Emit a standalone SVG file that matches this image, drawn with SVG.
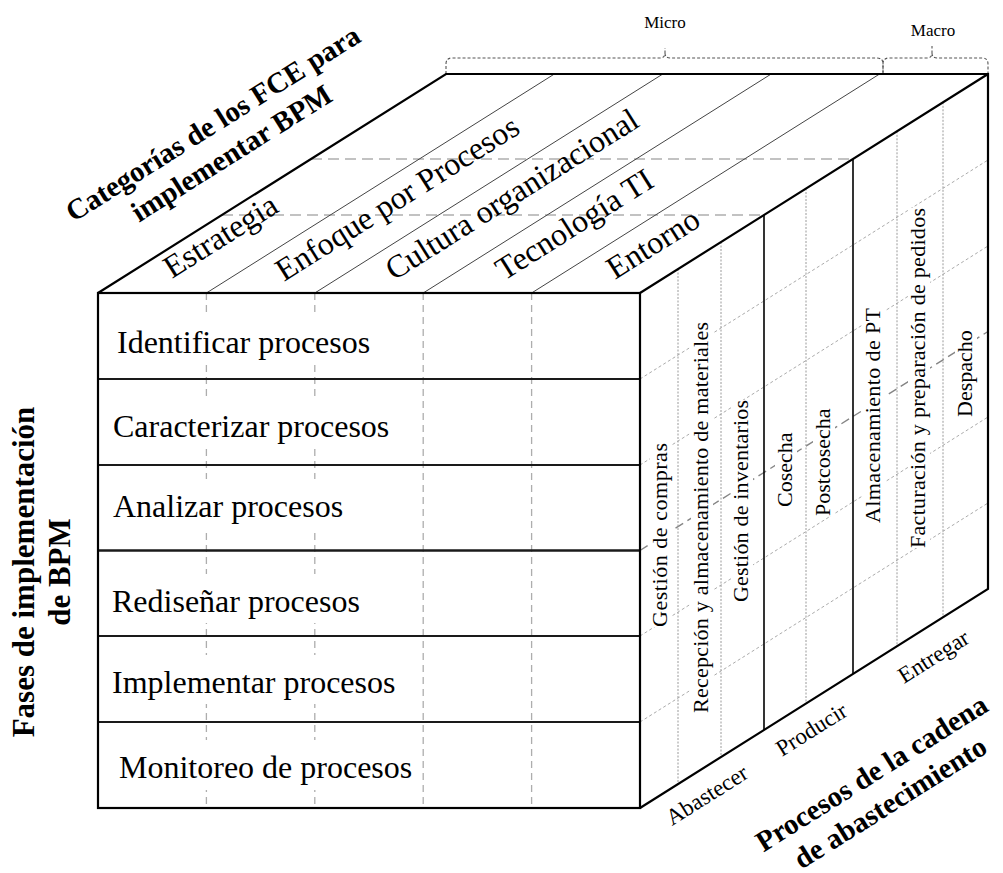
<svg xmlns="http://www.w3.org/2000/svg" width="1003" height="873" viewBox="0 0 1003 873">
<style>
text{font-family:"Liberation Serif","Times New Roman",serif;fill:#000}
.title{font-weight:bold;font-size:29px}
.title-side{font-weight:bold;font-size:31px}
.cat{font-size:32px}
.row{font-size:32px}
.proc{font-size:22px}
.stage{font-size:23px}
.scope{font-size:17px}
.face{fill:#fff;stroke:none}
.edge{fill:none;stroke:#000;stroke-width:2.2;stroke-linejoin:miter}
.rowbox{fill:none;stroke:#1a1a1a;stroke-width:2}
.band{fill:none;stroke:#444;stroke-width:1}
.sect{stroke:#000;stroke-width:1.6}
.sub{stroke:#9a9a9a;stroke-width:1;stroke-dasharray:2 1.5}
.diag{stroke:#ababab;stroke-width:1;stroke-dasharray:3 2.5}
.diag-mid{stroke:#858585;stroke-width:1.4;stroke-dasharray:9 5}
.hidden{stroke:#c2c2c2;stroke-width:2;stroke-dasharray:11 6}
.col{stroke:#adadad;stroke-width:1.3;stroke-dasharray:7 5}
.brace{fill:none;stroke:#555;stroke-width:1.1;stroke-dasharray:3 2}
.bg{fill:#fff}
</style>

<!-- cube faces (white fills) -->
<g id="faces">
  <polygon class="face" points="98,293 640,293 988,74 446,74"/>
  <polygon class="face" points="640,293 988,74 988,589 640,808"/>
  <rect class="face" x="98" y="293" width="542" height="515"/>
</g>

<!-- guide lines across the cube -->
<g id="connectors">
  <!-- hidden section boundaries on the top face -->
  <path class="hidden" d="M222,215 H764 M311,159 H853"/>
  <!-- category columns on the front face -->
  <path class="col" d="M206.4,293 V808 M314.8,293 V808 M423.2,293 V808 M531.6,293 V808"/>
  <!-- phase rows continued along the side face -->
  <path class="diag" d="M640,379 L988,160 M640,465 L988,246 M640,636 L988,417 M640,722 L988,503"/>
  <path class="diag-mid" d="M640,550.5 L988,331.5"/>
  <!-- sub-process divisions on the side face -->
  <path class="sub" d="M678,269 V784 M721,242 V757 M806,188.5 V703.5 M897,131.3 V646.3 M943,102.3 V617.3"/>
</g>

<!-- top face: FCE categories -->
<g id="categories">
  <path class="band" d="M206.4,293 L554.4,74 M314.8,293 L662.8,74 M423.2,293 L771.2,74 M531.6,293 L879.6,74"/>
  <g id="cat-estrategia"><text class="cat" transform="translate(172,279) rotate(-32.18)">Estrategia</text></g>
  <g id="cat-enfoque"><text class="cat" transform="translate(284,282) rotate(-32.18)">Enfoque por Procesos</text></g>
  <g id="cat-cultura"><text class="cat" transform="translate(394,281) rotate(-32.18)">Cultura organizacional</text></g>
  <g id="cat-tecnologia"><text class="cat" transform="translate(504,281) rotate(-32.18)">Tecnología TI</text></g>
  <g id="cat-entorno"><text class="cat" transform="translate(615,280) rotate(-32.18)">Entorno</text></g>
</g>

<!-- Micro / Macro braces -->
<g id="scope-micro">
  <path class="brace" d="M446,74 V64 Q446,58 452,58 H660 Q665,58 665,53 V48 M665,53 Q665,58 670,58 H877 Q883,58 883,64 V74"/>
  <text class="scope" x="665" y="28" text-anchor="middle">Micro</text>
</g>
<g id="scope-macro">
  <path class="brace" d="M883,74 V64 Q883,58 889,58 H927 Q932,58 932,53 V46 M932,53 Q932,58 937,58 H982 Q988,58 988,64 V74"/>
  <text class="scope" x="933" y="36" text-anchor="middle">Macro</text>
</g>

<!-- front face: BPM implementation phases -->
<g id="phase-1">
  <rect class="bg" x="113" y="315" width="263" height="49"/>
  <text class="row" x="117" y="353">Identificar procesos</text>
  <rect class="rowbox" x="98" y="293" width="542" height="86"/>
</g>
<g id="phase-2">
  <rect class="bg" x="109" y="397" width="289" height="50"/>
  <text class="row" x="113" y="437">Caracterizar procesos</text>
  <rect class="rowbox" x="98" y="379" width="542" height="86"/>
</g>
<g id="phase-3">
  <rect class="bg" x="109" y="479" width="238" height="49"/>
  <text class="row" x="113" y="517">Analizar procesos</text>
  <rect class="rowbox" x="98" y="465" width="542" height="85.5"/>
</g>
<g id="phase-4">
  <rect class="bg" x="108" y="574" width="256" height="49"/>
  <text class="row" x="112" y="612">Rediseñar procesos</text>
  <rect class="rowbox" x="98" y="550.5" width="542" height="85.5"/>
</g>
<g id="phase-5">
  <rect class="bg" x="108" y="655" width="292" height="49"/>
  <text class="row" x="112" y="693">Implementar procesos</text>
  <rect class="rowbox" x="98" y="636" width="542" height="86"/>
</g>
<g id="phase-6">
  <rect class="bg" x="115" y="740" width="305" height="50"/>
  <text class="row" x="119" y="778">Monitoreo de procesos</text>
  <rect class="rowbox" x="98" y="722" width="542" height="86"/>
</g>

<!-- side face: supply chain processes -->
<g id="stage-abastecer">
  <g id="proc-compras"><rect class="bg" x="650" y="443" width="22" height="184"/><text class="proc" transform="translate(667,627) rotate(-90)" textLength="184" lengthAdjust="spacing">Gestión de compras</text></g>
  <g id="proc-recepcion"><rect class="bg" x="691" y="322" width="22" height="391"/><text class="proc" transform="translate(708,713) rotate(-90)" textLength="391" lengthAdjust="spacing">Recepción y almacenamiento de materiales</text></g>
  <g id="proc-inventarios"><rect class="bg" x="731" y="400" width="22" height="202"/><text class="proc" transform="translate(748,602) rotate(-90)" textLength="202" lengthAdjust="spacing">Gestión de inventarios</text></g>
  <text class="stage" transform="translate(672,826) rotate(-32.18)">Abastecer</text>
</g>
<g id="stage-producir">
  <path class="sect" d="M764,215 V730"/>
  <g id="proc-cosecha"><rect class="bg" x="775" y="432" width="22" height="75"/><text class="proc" transform="translate(792,507) rotate(-90)">Cosecha</text></g>
  <g id="proc-postcosecha"><rect class="bg" x="813" y="408" width="22" height="108"/><text class="proc" transform="translate(830,516) rotate(-90)">Postcosecha</text></g>
  <text class="stage" transform="translate(782,757) rotate(-32.18)">Producir</text>
</g>
<g id="stage-entregar">
  <path class="sect" d="M853,159 V674"/>
  <g id="proc-almacenamiento"><rect class="bg" x="863" y="308" width="22" height="215"/><text class="proc" transform="translate(880,523) rotate(-90)" textLength="215" lengthAdjust="spacing">Almacenamiento de PT</text></g>
  <g id="proc-facturacion"><rect class="bg" x="908" y="208" width="22" height="340"/><text class="proc" transform="translate(925,548) rotate(-90)" textLength="340" lengthAdjust="spacing">Facturación y preparación de pedidos</text></g>
  <g id="proc-despacho"><rect class="bg" x="955" y="332" width="22" height="85"/><text class="proc" transform="translate(972,417) rotate(-90)">Despacho</text></g>
  <text class="stage" transform="translate(904,684) rotate(-32.18)">Entregar</text>
</g>

<!-- cube outline -->
<g id="outline">
  <path class="edge" d="M98,293 L446,74 H988 V589 L640,808 M640,293 L988,74"/>
  <rect class="edge" x="98" y="293" width="542" height="515"/>
</g>

<!-- axis titles -->
<g id="axis-categories">
  <text class="title" text-anchor="middle" transform="translate(227,146) rotate(-32.18)"><tspan x="0" y="-17">Categorías de los FCE para</tspan><tspan x="0" y="18">implementar BPM</tspan></text>
</g>
<g id="axis-phases">
  <text class="title-side" text-anchor="middle" transform="translate(52,572) rotate(-90)"><tspan x="0" y="-18">Fases de implementación</tspan><tspan x="0" y="18">de BPM</tspan></text>
</g>
<g id="axis-processes">
  <text class="title" text-anchor="middle" transform="translate(886,796) rotate(-32.18)"><tspan x="0" y="-17.5">Procesos de la cadena</tspan><tspan x="0" y="17.5">de abastecimiento</tspan></text>
</g>
</svg>
